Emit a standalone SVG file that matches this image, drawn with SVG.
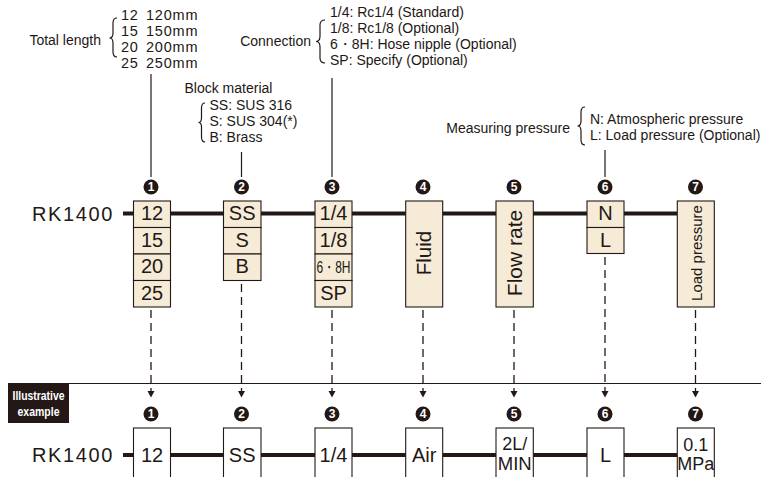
<svg xmlns="http://www.w3.org/2000/svg" width="761" height="477" viewBox="0 0 761 477">
<defs>
<style>
.t{font-family:"Liberation Sans",Arial,sans-serif;fill:#231815}
.a{font-size:14px}
.d{font-size:14.5px;letter-spacing:0.8px}
.bx{fill:#F6EBD7;stroke:#231815;stroke-width:1.1}
.wb{fill:#fff;stroke:#231815;stroke-width:1.1}
.bt{font-size:20px;text-anchor:middle}
.main{stroke:#231815;stroke-width:4;fill:none}
.sol{stroke:#231815;stroke-width:1.2;fill:none}
.dash{stroke:#231815;stroke-width:1.3;fill:none;stroke-dasharray:8 5}
.br{stroke:#231815;stroke-width:1.2;fill:none}
.cn{fill:#231815}
.cnt{font-family:"Liberation Sans",Arial,sans-serif;font-weight:bold;font-size:12px;fill:#fff;text-anchor:middle}
.ah{fill:#231815}
</style>
</defs>

<g id="ann-length">
<text class="t a" x="101" y="45" text-anchor="end">Total length</text>
<path class="br" d="M117,18 Q113,18 113,23 L113,33 Q113,38 109.5,38 Q113,38 113,43 L113,52 Q113,57 117,57"/>
<text class="t d" x="121" y="20">12</text><text class="t d" x="146" y="20">120mm</text>
<text class="t d" x="121" y="36">15</text><text class="t d" x="146" y="36">150mm</text>
<text class="t d" x="121" y="52">20</text><text class="t d" x="146" y="52">200mm</text>
<text class="t d" x="121" y="68">25</text><text class="t d" x="146" y="68">250mm</text>
</g>
<g id="ann-material">
<text class="t a" x="184.5" y="93">Block material</text>
<path class="br" d="M205,103 Q201.5,103 201.5,108 L201.5,118 Q201.5,122.5 198.5,122.5 Q201.5,122.5 201.5,127 L201.5,137 Q201.5,142 205,142"/>
<text class="t a" x="209.5" y="109.5">SS: SUS 316</text>
<text class="t a" x="209.5" y="125.5">S: SUS 304(*)</text>
<text class="t a" x="209.5" y="141.5">B: Brass</text>
</g>
<g id="ann-connection">
<text class="t a" x="311" y="46" text-anchor="end">Connection</text>
<path class="br" d="M325,20 Q320,20 320,25 L320,36 Q320,41.5 316,41.5 Q320,41.5 320,47 L320,58 Q320,63 325,63"/>
<text class="t a" x="330" y="17">1/4: Rc1/4 (Standard)</text>
<text class="t a" x="330" y="33">1/8: Rc1/8 (Optional)</text>
<text class="t a" x="330" y="49">6・8H: Hose nipple (Optional)</text>
<text class="t a" x="330" y="65">SP: Specify (Optional)</text>
</g>
<g id="ann-pressure">
<text class="t a" x="570" y="133" text-anchor="end">Measuring pressure</text>
<path class="br" d="M585,107 Q581,107 581,112 L581,121 Q581,126 577.5,126 Q581,126 581,131 L581,140 Q581,145 585,145"/>
<text class="t a" x="590" y="124">N: Atmospheric pressure</text>
<text class="t a" x="590" y="140">L: Load pressure (Optional)</text>
</g>

<g id="connectors">
<line class="main" x1="123" y1="213.5" x2="677" y2="213.5"/>
<line class="main" x1="123" y1="455" x2="677" y2="455"/>
<line class="sol" x1="151" y1="74" x2="151" y2="177"/>
<line class="sol" x1="241.5" y1="152" x2="241.5" y2="177"/>
<line class="sol" x1="332" y1="78" x2="332" y2="177"/>
<line class="sol" x1="605" y1="150" x2="605" y2="177"/>
<line class="dash" x1="151" y1="310" x2="151" y2="391"/>
<line class="dash" x1="241.5" y1="284" x2="241.5" y2="391"/>
<line class="dash" x1="332" y1="310" x2="332" y2="391"/>
<line class="dash" x1="423" y1="310" x2="423" y2="391"/>
<line class="dash" x1="514" y1="310" x2="514" y2="391"/>
<line class="dash" x1="605" y1="257" x2="605" y2="391"/>
<line class="dash" x1="695.5" y1="310" x2="695.5" y2="391"/>
<line class="sol" x1="8" y1="383.5" x2="761" y2="383.5"/>
<path class="ah" d="M147.5,391 L154.5,391 L151,397.5 Z"/>
<path class="ah" d="M238,391 L245,391 L241.5,397.5 Z"/>
<path class="ah" d="M328.5,391 L335.5,391 L332,397.5 Z"/>
<path class="ah" d="M419.5,391 L426.5,391 L423,397.5 Z"/>
<path class="ah" d="M510.5,391 L517.5,391 L514,397.5 Z"/>
<path class="ah" d="M601.5,391 L608.5,391 L605,397.5 Z"/>
<path class="ah" d="M692,391 L699,391 L695.5,397.5 Z"/>
</g>

<g id="model-top"><text class="t" x="32" y="220.5" font-size="20" letter-spacing="1.6">RK1400</text></g>
<g id="model-bottom"><text class="t" x="32" y="462" font-size="20" letter-spacing="1.6">RK1400</text></g>

<g id="num-top">
<circle class="cn" cx="151" cy="187" r="7.5"/><text class="cnt" x="151" y="191.3">1</text>
<circle class="cn" cx="241.5" cy="187" r="7.5"/><text class="cnt" x="241.5" y="191.3">2</text>
<circle class="cn" cx="332" cy="187" r="7.5"/><text class="cnt" x="332" y="191.3">3</text>
<circle class="cn" cx="423" cy="187" r="7.5"/><text class="cnt" x="423" y="191.3">4</text>
<circle class="cn" cx="514" cy="187" r="7.5"/><text class="cnt" x="514" y="191.3">5</text>
<circle class="cn" cx="605" cy="187" r="7.5"/><text class="cnt" x="605" y="191.3">6</text>
<circle class="cn" cx="695.5" cy="187" r="7.5"/><text class="cnt" x="695.5" y="191.3">7</text>
</g>

<g id="node-1">
<rect class="bx" x="133.5" y="201" width="37" height="26.5"/>
<rect class="bx" x="133.5" y="227.5" width="37" height="26.5"/>
<rect class="bx" x="133.5" y="254" width="37" height="26.5"/>
<rect class="bx" x="133.5" y="280.5" width="37" height="26.5"/>
<text class="t bt" x="152" y="220">12</text>
<text class="t bt" x="152" y="246.5">15</text>
<text class="t bt" x="152" y="273">20</text>
<text class="t bt" x="152" y="299.5">25</text>
</g>
<g id="node-2">
<rect class="bx" x="223.5" y="201" width="37.5" height="26.5"/>
<rect class="bx" x="223.5" y="227.5" width="37.5" height="26.5"/>
<rect class="bx" x="223.5" y="254" width="37.5" height="26.5"/>
<text class="t bt" x="242.2" y="220">SS</text>
<text class="t bt" x="242.2" y="246.5">S</text>
<text class="t bt" x="242.2" y="273">B</text>
</g>
<g id="node-3">
<rect class="bx" x="315" y="201" width="37" height="26.5"/>
<rect class="bx" x="315" y="227.5" width="37" height="26.5"/>
<rect class="bx" x="315" y="254" width="37" height="26.5"/>
<rect class="bx" x="315" y="280.5" width="37" height="26.5"/>
<text class="t bt" x="333.5" y="220">1/4</text>
<text class="t bt" x="333.5" y="246.5">1/8</text>
<text class="t" x="333.5" y="272.5" font-size="17" text-anchor="middle" textLength="34" lengthAdjust="spacingAndGlyphs">6・8H</text>
<text class="t bt" x="333.5" y="299.5">SP</text>
</g>
<g id="node-4">
<rect class="bx" x="405.7" y="201" width="37" height="106"/>
<text class="t" transform="translate(431,253) rotate(-90)" font-size="20.5" text-anchor="middle">Fluid</text>
</g>
<g id="node-5">
<rect class="bx" x="496" y="201" width="37.3" height="106"/>
<text class="t" transform="translate(522,253) rotate(-90)" font-size="21" text-anchor="middle">Flow rate</text>
</g>
<g id="node-6">
<rect class="bx" x="587" y="201" width="37" height="26.5"/>
<rect class="bx" x="587" y="227.5" width="37" height="26"/>
<text class="t bt" x="605.5" y="220">N</text>
<text class="t bt" x="605.5" y="246.5">L</text>
</g>
<g id="node-7">
<rect class="bx" x="677.3" y="201" width="37" height="106"/>
<text class="t" transform="translate(701.5,253) rotate(-90)" font-size="15" text-anchor="middle">Load pressure</text>
</g>

<g id="label-example">
<rect x="8" y="383.5" width="61" height="39.5" fill="#231815"/>
<text x="38.5" y="400" font-family="'Liberation Sans',Arial,sans-serif" font-weight="bold" font-size="12" fill="#fff" text-anchor="middle" textLength="52" lengthAdjust="spacingAndGlyphs">Illustrative</text>
<text x="38.5" y="415.5" font-family="'Liberation Sans',Arial,sans-serif" font-weight="bold" font-size="12" fill="#fff" text-anchor="middle" textLength="42" lengthAdjust="spacingAndGlyphs">example</text>
</g>

<g id="num-bottom">
<circle class="cn" cx="151" cy="414" r="7.5"/><text class="cnt" x="151" y="418.3">1</text>
<circle class="cn" cx="241.5" cy="414" r="7.5"/><text class="cnt" x="241.5" y="418.3">2</text>
<circle class="cn" cx="332" cy="414" r="7.5"/><text class="cnt" x="332" y="418.3">3</text>
<circle class="cn" cx="423" cy="414" r="7.5"/><text class="cnt" x="423" y="418.3">4</text>
<circle class="cn" cx="514" cy="414" r="7.5"/><text class="cnt" x="514" y="418.3">5</text>
<circle class="cn" cx="605" cy="414" r="7.5"/><text class="cnt" x="605" y="418.3">6</text>
<circle class="cn" cx="695.5" cy="414" r="7.5"/><text class="cnt" x="695.5" y="418.3">7</text>
</g>

<g id="ex-1"><rect class="wb" x="133.5" y="428" width="37" height="60"/><text class="t bt" x="152" y="462">12</text></g>
<g id="ex-2"><rect class="wb" x="223.5" y="428" width="37.5" height="60"/><text class="t bt" x="242.2" y="462">SS</text></g>
<g id="ex-3"><rect class="wb" x="315" y="428" width="37" height="60"/><text class="t bt" x="333.5" y="462">1/4</text></g>
<g id="ex-4"><rect class="wb" x="405.7" y="428" width="37" height="60"/><text class="t bt" x="424.2" y="462">Air</text></g>
<g id="ex-5"><rect class="wb" x="496" y="428" width="37.3" height="60"/>
<text class="t" x="514.7" y="450" font-size="18" text-anchor="middle">2L/</text>
<text class="t" x="514.7" y="470" font-size="18" text-anchor="middle" textLength="34" lengthAdjust="spacingAndGlyphs">MIN</text></g>
<g id="ex-6"><rect class="wb" x="587" y="428" width="37" height="60"/><text class="t bt" x="605.5" y="462">L</text></g>
<g id="ex-7"><rect class="wb" x="677.3" y="428" width="37" height="60"/>
<text class="t" x="695.8" y="451" font-size="18" text-anchor="middle">0.1</text>
<text class="t" x="695.8" y="470" font-size="18" text-anchor="middle">MPa</text></g>
</svg>
